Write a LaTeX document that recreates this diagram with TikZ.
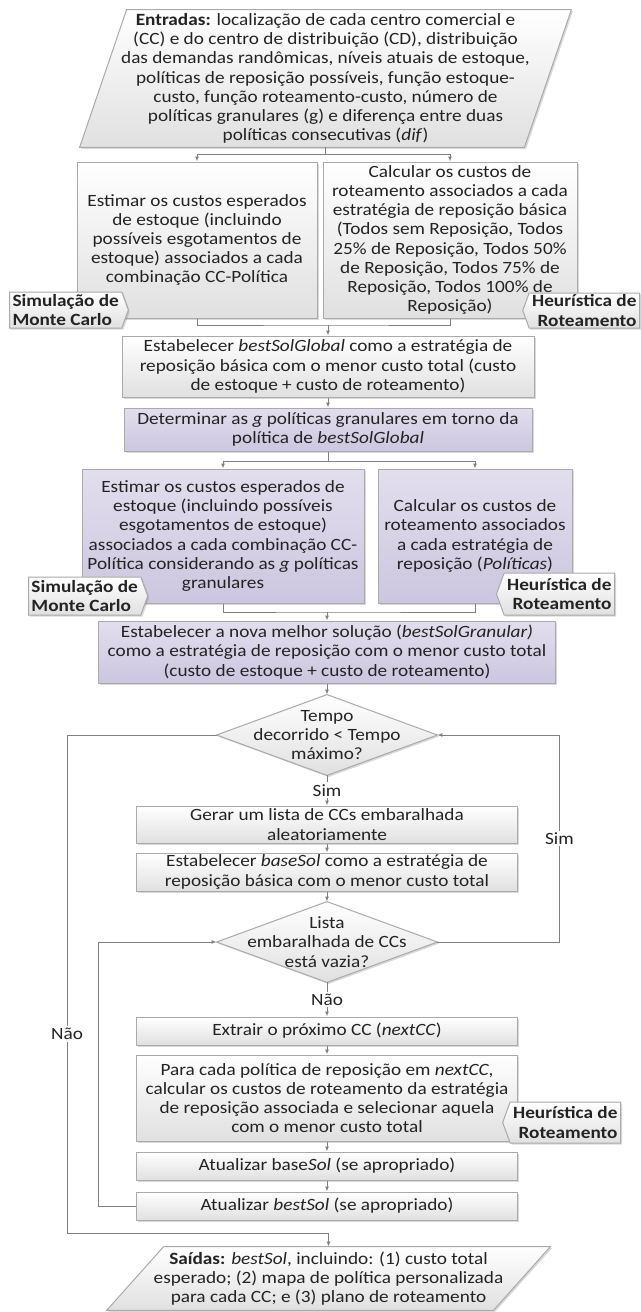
\documentclass[tikz,border=0pt]{standalone}
\usepackage{fontspec}
\setmainfont{Carlito}[FakeStretch=1.12]
\usetikzlibrary{arrows.meta, shapes.symbols, shadows, backgrounds}
\definecolor{linegray}{RGB}{128,128,128}
\definecolor{edgegray}{RGB}{170,170,170}
\definecolor{boxgray}{RGB}{224,224,224}
\definecolor{lilactop}{RGB}{226,222,237}
\definecolor{lilacbot}{RGB}{204,198,223}
\definecolor{txtgray}{RGB}{35,35,35}
\tikzset{
    every node/.style={font=\fontsize{8.6}{9.6}\selectfont, text=txtgray},
    softshadow/.style={drop shadow={shadow xshift=0.8pt, shadow yshift=-0.8pt, opacity=0.3}},
    block/.style={rectangle, draw=edgegray, line width=0.5pt, top color=white, bottom color=boxgray, align=center, inner sep=0pt, softshadow},
    purpleblock/.style={block, top color=lilactop, bottom color=lilacbot},
    textonly/.style={rectangle, align=center, inner sep=0pt},
    shapefill/.style={draw=edgegray, line width=0.5pt, top color=white, bottom color=boxgray, softshadow},
    tagbox/.style={signal, signal pointer angle=140, draw=edgegray, line width=0.5pt, top color=white, bottom color=boxgray, inner xsep=1.5pt, inner ysep=0.5pt, font=\fontsize{8.6}{9.6}\selectfont\bfseries, softshadow},
    line/.style={draw=linegray, line width=0.5pt},
    arrow/.style={line, -{Latex[length=2.5pt, width=2pt]}},
    yesno/.style={fill=white, inner sep=1pt},
}
\begin{document}
\begin{tikzpicture}[x=0.5pt, y=-0.5pt]
\useasboundingbox (0,0) rectangle (641,1312);

% first part
\node[textonly, minimum width=245.5pt, minimum height=68.5pt] (entrada) at (325.5,78.5) {\textbf{Entradas:} localização de cada centro comercial e\\ (CC) e do centro de distribuição (CD), distribuição\\ das demandas randômicas, níveis atuais de estoque,\\ políticas de reposição possíveis, função estoque-\\ custo, função roteamento-custo, número de\\ políticas granulares (g) e diferença entre duas\\ políticas consecutivas (\textit{dif})};
\node[block, minimum width=120pt, minimum height=78pt] (custoest) at (197,240) {Estimar os custos esperados\\ de estoque (incluindo\\ possíveis esgotamentos de\\ estoque) associados a cada\\ combinação CC-Política};
\node[block, minimum width=127pt, minimum height=78pt] (custorot) at (450,240) {Calcular os custos de\\ roteamento associados a cada\\ estratégia de reposição básica\\ (Todos sem Reposição, Todos\\ 25\% de Reposição, Todos 50\%\\ de Reposição, Todos 75\% de\\ Reposição, Todos 100\% de\\ Reposição)};
\node[tagbox, signal to=east, align=left, minimum height=18pt, anchor=west] (simul1) at (9,310) {Simulação de\\ Monte Carlo};
\node[tagbox, signal to=west, align=right, minimum height=17.5pt, anchor=east] (heur1) at (640,310.5) {Heurística de\\ Roteamento};
\node[block, minimum width=206pt, minimum height=30.5pt] (global) at (328,366.5) {Estabelecer \textit{bestSolGlobal} como a estratégia de\\ reposição básica com o menor custo total (custo\\ de estoque + custo de roteamento)};

% granular part
\node[purpleblock, minimum width=204pt, minimum height=21.5pt] (granular) at (328,429.5) {Determinar as \textit{g} políticas granulares em torno da\\ política de \textit{bestSolGlobal}};
\node[purpleblock, minimum width=141pt, minimum height=67pt] (estgran) at (223,536) {Estimar os custos esperados de\\ estoque (incluindo possíveis\\ esgotamentos de estoque)\\ associados a cada combinação CC-\\ Política considerando as \textit{g} políticas\\ granulares};
\node[purpleblock, minimum width=97pt, minimum height=67pt] (rotgran) at (475,536) {Calcular os custos de\\ roteamento associados\\ a cada estratégia de\\ reposição (\textit{Políticas})};
\node[tagbox, signal to=east, align=left, minimum height=19pt, anchor=west] (simul2) at (28,596) {Simulação de\\ Monte Carlo};
\node[tagbox, signal to=west, align=right, minimum height=21pt, anchor=east] (heur2) at (615,594) {Heurística de\\ Roteamento};
\node[purpleblock, minimum width=228.5pt, minimum height=31pt] (melhor) at (327,652) {Estabelecer a nova melhor solução (\textit{bestSolGranular)}\\ como a estratégia de reposição com o menor custo total\\ (custo de estoque + custo de roteamento)};

% local search
\node[textonly, minimum width=110pt, minimum height=40pt] (tempo) at (327,735) {Tempo\\ decorrido < Tempo\\ máximo?};
\node[block, minimum width=190.5pt, minimum height=18.5pt] (gerar) at (327,824.5) {Gerar um lista de CCs embaralhada\\ aleatoriamente};
\node[block, minimum width=190.5pt, minimum height=19pt] (basesol) at (327,872) {Estabelecer \textit{baseSol} como a estratégia de\\ reposição básica com o menor custo total};
\node[textonly, minimum width=110pt, minimum height=40pt] (lista) at (327,942) {Lista\\ embaralhada de CCs\\ está vazia?};
\node[block, minimum width=190.5pt, minimum height=14pt] (extrair) at (327,1031) {Extrair o próximo CC (\textit{nextCC})};
\node[block, minimum width=190.5pt, minimum height=43pt] (paracada) at (327,1098) {Para cada política de reposição em \textit{nextCC},\\ calcular os custos de roteamento da estratégia\\ de reposição associada e selecionar aquela\\ com o menor custo total};
\node[tagbox, signal to=west, align=right, minimum height=20.5pt, anchor=east] (heur3) at (621,1122.5) {Heurística de\\ Roteamento};
\node[block, minimum width=190.5pt, minimum height=14pt] (atbase) at (327,1166) {Atualizar base\textit{Sol} (se apropriado)};
\node[block, minimum width=190.5pt, minimum height=14pt] (atbest) at (327,1206) {Atualizar \textit{bestSol} (se apropriado)};
\node[textonly, minimum width=221.5pt, minimum height=31.5pt] (saida) at (328.5,1278.5) {\textbf{Saídas:} \textit{bestSol}, incluindo: (1) custo total\\ esperado; (2) mapa de política personalizada\\ para cada CC; e (3) plano de roteamento};

% parallelograms and diamonds
\begin{scope}[on background layer]
    \path[shapefill] ([xshift=23.5pt]entrada.north west) -- (entrada.north east) -- ([xshift=-23.5pt]entrada.south east) -- (entrada.south west) -- cycle;
    \path[shapefill] ([xshift=28.5pt]saida.north west) -- (saida.north east) -- ([xshift=-28.5pt]saida.south east) -- (saida.south west) -- cycle;
    \path[shapefill] (tempo.north) -- (tempo.east) -- (tempo.south) -- (tempo.west) -- cycle;
    \path[shapefill] (lista.north) -- (lista.east) -- (lista.south) -- (lista.west) -- cycle;
\end{scope}

% connectors
\draw[line] (entrada.south) -- ++(0,7) coordinate (s1);
\draw[arrow] (s1) -| (custoest.north);
\draw[arrow] (s1) -| (custorot.north);
\coordinate (m1) at (global.north |- 0,325);
\draw[line] (custoest.south) |- (m1) -| (custorot.south);
\draw[arrow] (m1) -- (global.north);
\draw[arrow] (global) -- (granular);
\draw[line] (granular.south) -- ++(0,10) coordinate (s2);
\draw[arrow] (s2) -| (estgran.north);
\draw[arrow] (s2) -| (rotgran.north);
\coordinate (m2) at (melhor.north |- 0,612);
\draw[line] (estgran.south) |- (m2) -| (rotgran.south);
\draw[arrow] (m2) -- (melhor.north);
\draw[arrow] (melhor) -- (tempo.north);
\draw[arrow] (tempo.south) -- node[yesno] {Sim} (gerar.north);
\draw[arrow] (gerar) -- (basesol);
\draw[arrow] (basesol) -- (lista.north);
\draw[arrow] (lista.south) -- node[yesno] {Não} (extrair.north);
\draw[arrow] (extrair) -- (paracada);
\draw[arrow] (paracada) -- (atbase);
\draw[arrow] (atbase) -- (atbest);
\draw[arrow] (lista.east) -- ++(122,0) |- node[yesno, pos=0.25] {Sim} (tempo.east);
\draw[arrow] (atbest.west) -- ++(-38,0) |- (lista.west);
\coordinate (canto) at (67,1233);
\coordinate (s9) at (saida.north |- canto);
\draw[arrow] (tempo.west) -| node[yesno, pos=0.8] {Não} (canto) -- (s9) -- (saida.north);
\end{tikzpicture}
\end{document}
